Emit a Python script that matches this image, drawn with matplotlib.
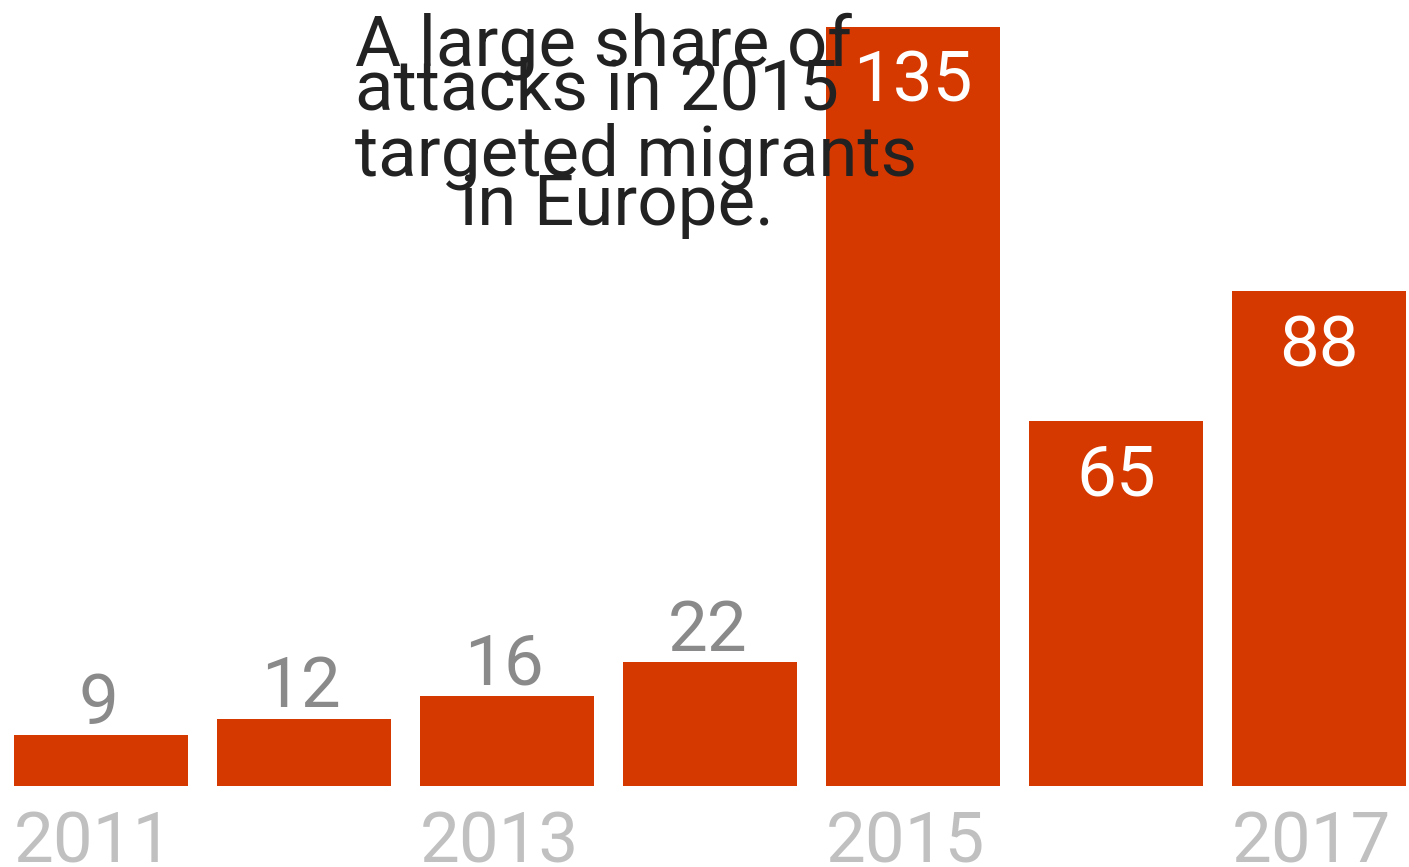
import matplotlib.pyplot as plt

years = [2011, 2012, 2013, 2014, 2015, 2016, 2017]
attacks = [9, 12, 16, 22, 135, 65, 88]
tick_years = [2011, 2013, 2015, 2017]
note_lines = ["A large share of", "attacks in 2015", "targeted migrants", "in Europe."]

bar_color = '#d63900'
plt.rcParams['font.family'] = ['Roboto', 'DejaVu Sans']

fig = plt.figure(figsize=(14.09, 8.67), dpi=100)
ax = fig.add_axes([14 / 1409, 81 / 867, 1392 / 1409, 759 / 867])

width = 0.857
xs = list(range(len(years)))
ax.bar(xs, attacks, width=width, color=bar_color)

fs = 51
for x, v in zip(xs, attacks):
    if v < 30:
        ax.annotate(str(v), (x, v), xytext=(-2, 8), textcoords='offset points',
                    ha='center', va='baseline', fontsize=fs, color='#8a8a8a')
    else:
        ax.annotate(str(v), (x, v), xytext=(0, -54), textcoords='offset points',
                    ha='center', va='baseline', fontsize=fs, color='white')

tick_pos = [years.index(y) - width / 2 for y in tick_years]
ax.set_xticks(tick_pos)
ax.set_xticklabels([str(y) for y in tick_years], ha='left', fontsize=fs, color='#c0c0c0')
ax.tick_params(axis='x', length=0, pad=17)
ax.set_yticks([])
for s in ax.spines.values():
    s.set_visible(False)
ax.set_xlim(-width / 2, len(years) - 1 + width / 2)
ax.set_ylim(0, 135)

# annotation lines (uneven spacing as in the original)
note_x = [355, 355, 355, 460]
note_base = [65, 110, 175, 225]
for t, nx, ny in zip(note_lines, note_x, note_base):
    fig.text(nx / 1409, 1 - ny / 867, t, ha='left', va='baseline',
             fontsize=fs, color='#222222')

fig.savefig('out.png', dpi=100)
